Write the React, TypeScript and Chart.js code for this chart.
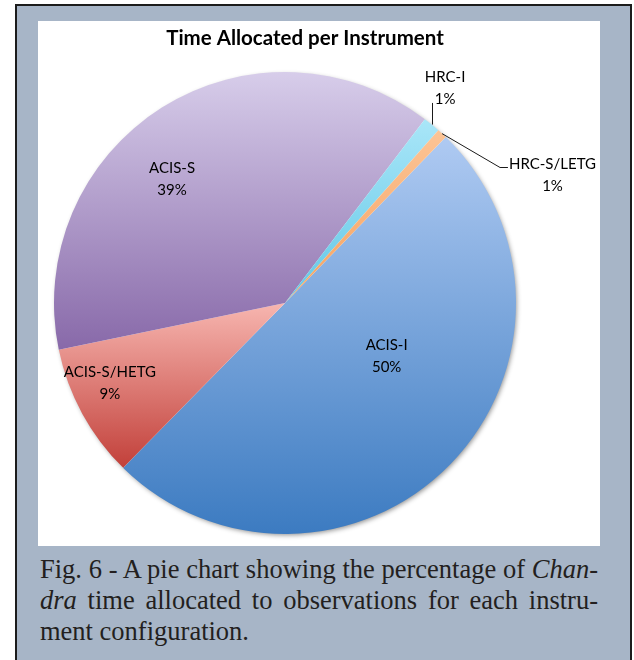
import React, { useEffect, useRef } from "react";
import { Chart, registerables } from "chart.js";

Chart.register(...registerables);

// ---- data ----
const categories = ["ACIS-I", "ACIS-S/HETG", "ACIS-S", "HRC-I", "HRC-S/LETG"];
const shares = [50.1, 9.4, 38.6, 1.2, 0.7];
const percentLabels = ["50%", "9%", "39%", "1%", "1%"];
const chartTitle = "Time Allocated per Instrument";

// ---- styles ----
const gradientTop = ["#afcaf2", "#f7b6b0", "#d7cdea", "#a9e6f8", "#fcc496"];
const gradientBottom = ["#3c7bc1", "#c2403a", "#8869a9", "#62c7e6", "#f5a260"];
const ROTATION = 44.1; // degrees, chart.js rotation
const LABEL_FONT = '15px Lato, "Noto Sans", sans-serif';
const TITLE_FONT = 'bold 20.5px Lato, "Noto Sans", sans-serif';

// label placement, in units of the pie radius from the pie centre
const labelLayout = [
  { dx: 0.44, dy: 0.23 },
  { dx: -0.758, dy: 0.346 },
  { dx: -0.489, dy: -0.537 },
  { dx: 0.693, dy: -0.931 },
  { dx: 1.158, dy: -0.552 },
];

function pieGeometry(chart: any) {
  const area = chart.chartArea;
  const cx = (area.left + area.right) / 2;
  const cy = (area.top + area.bottom) / 2;
  const r = Math.min(area.right - area.left, area.bottom - area.top) / 2;
  return { cx, cy, r };
}

function sliceAngles(index: number) {
  const total = shares.reduce((a, b) => a + b, 0);
  let a0 = ((ROTATION - 90) * Math.PI) / 180;
  for (let i = 0; i < index; i++) a0 += (shares[i] / total) * Math.PI * 2;
  const a1 = a0 + (shares[index] / total) * Math.PI * 2;
  return { a0, a1 };
}

function sliceFill(context: any) {
  const chart = context.chart;
  const i = context.dataIndex;
  if (!chart.chartArea || i === undefined) return gradientBottom[i ?? 0];
  const { cx, cy, r } = pieGeometry(chart);
  const { a0, a1 } = sliceAngles(i);
  const angles = [a0, a1];
  for (let k = -8; k <= 8; k++) {
    const a = (k * Math.PI) / 2;
    if (a > a0 && a < a1) angles.push(a);
  }
  let ymin = cy;
  let ymax = cy;
  for (const a of angles) {
    const y = cy + r * Math.sin(a);
    ymin = Math.min(ymin, y);
    ymax = Math.max(ymax, y);
  }
  const g = chart.ctx.createLinearGradient(0, ymin, 0, ymax);
  g.addColorStop(0, gradientTop[i]);
  g.addColorStop(1, gradientBottom[i]);
  return g;
}

const decorPlugin = {
  id: "decor",
  beforeDatasetsDraw(chart: any) {
    const ctx = chart.ctx;
    const { cx, cy, r } = pieGeometry(chart);
    ctx.save();
    ctx.shadowColor = "rgba(0,0,0,0.45)";
    ctx.shadowBlur = 5;
    ctx.shadowOffsetX = 1.5;
    ctx.shadowOffsetY = 2;
    ctx.beginPath();
    ctx.arc(cx, cy, r - 1, 0, Math.PI * 2);
    ctx.fillStyle = "#ffffff";
    ctx.fill();
    ctx.restore();
  },
  afterDatasetsDraw(chart: any) {
    const ctx = chart.ctx;
    const { cx, cy, r } = pieGeometry(chart);
    ctx.save();
    // title
    ctx.font = TITLE_FONT;
    ctx.fillStyle = "#000000";
    ctx.textAlign = "center";
    ctx.textBaseline = "alphabetic";
    ctx.fillText(chartTitle, 267, 24);

    // leader lines
    ctx.strokeStyle = "#1a1a1a";
    ctx.lineWidth = 1;
    {
      const { a0, a1 } = sliceAngles(3);
      const m = (a0 + a1) / 2;
      const x = cx + r * Math.cos(m);
      const y = cy + r * Math.sin(m);
      ctx.beginPath();
      ctx.moveTo(Math.round(x) + 0.5, y);
      ctx.lineTo(Math.round(x) + 0.5, cy - 0.866 * r);
      ctx.stroke();
    }
    {
      const { a0, a1 } = sliceAngles(4);
      const m = (a0 + a1) / 2;
      const x = cx + r * Math.cos(m);
      const y = cy + r * Math.sin(m);
      ctx.beginPath();
      ctx.moveTo(x, y);
      ctx.lineTo(cx + 0.931 * r, Math.round(cy - 0.589 * r) + 0.5);
      ctx.lineTo(cx + 0.965 * r, Math.round(cy - 0.589 * r) + 0.5);
      ctx.stroke();
    }

    // labels
    ctx.font = LABEL_FONT;
    ctx.fillStyle = "#000000";
    ctx.textBaseline = "middle";
    ctx.textAlign = "center";
    categories.forEach((name, i) => {
      const p = labelLayout[i];
      const x = cx + p.dx * r;
      const y = cy + p.dy * r;
      ctx.fillText(name, x, y - 11);
      ctx.fillText(percentLabels[i], x, y + 11);
    });
    ctx.restore();
  },
};

function PieChart() {
  const ref = useRef<HTMLCanvasElement | null>(null);
  useEffect(() => {
    if (!ref.current) return;
    const chart = new Chart(ref.current, {
      type: "pie",
      data: {
        labels: categories,
        datasets: [
          {
            data: shares,
            backgroundColor: sliceFill as any,
            borderWidth: 0,
            hoverOffset: 0,
            offset: 0,
          },
        ],
      },
      options: {
        responsive: false,
        animation: false,
        rotation: ROTATION,
        layout: { padding: { left: 16, right: 84, top: 51, bottom: 12 } },
        plugins: {
          legend: { display: false },
          tooltip: { enabled: false },
          title: { display: false },
        },
        events: [],
      },
      plugins: [decorPlugin],
    });
    return () => chart.destroy();
  }, []);
  return <canvas ref={ref} width={562} height={525} style={{ display: "block", width: 562, height: 525 }} />;
}

export default function App() {
  const lineStyle: React.CSSProperties = {
    textAlign: "justify",
    textAlignLast: "justify" as any,
    whiteSpace: "nowrap",
    height: 31,
  };
  return (
    <div style={{ position: "absolute", left: 0, top: 0, width: 634, height: 660, overflow: "hidden", background: "#ffffff" }}>
      <div
        style={{
          position: "absolute",
          left: 15,
          top: 4,
          width: 613,
          height: 700,
          background: "#a7b5c7",
          border: "2px solid #1c1c1c",
        }}
      />
      <div style={{ position: "absolute", left: 38, top: 21, width: 562, height: 525, background: "#ffffff" }}>
        <PieChart />
      </div>
      <div
        style={{
          position: "absolute",
          left: 40,
          top: 554,
          width: 558,
          fontFamily: '"Liberation Serif", "Times New Roman", serif',
          fontSize: 26.5,
          lineHeight: "31px",
          color: "#231f20",
        }}
      >
        <div style={lineStyle}>
          Fig. 6 - A pie chart showing the percentage of <i>Chan</i>-
        </div>
        <div style={lineStyle}>
          <i>dra</i> time allocated to observations for each instru-
        </div>
        <div style={{ whiteSpace: "nowrap", height: 31 }}>ment configuration.</div>
      </div>
    </div>
  );
}
